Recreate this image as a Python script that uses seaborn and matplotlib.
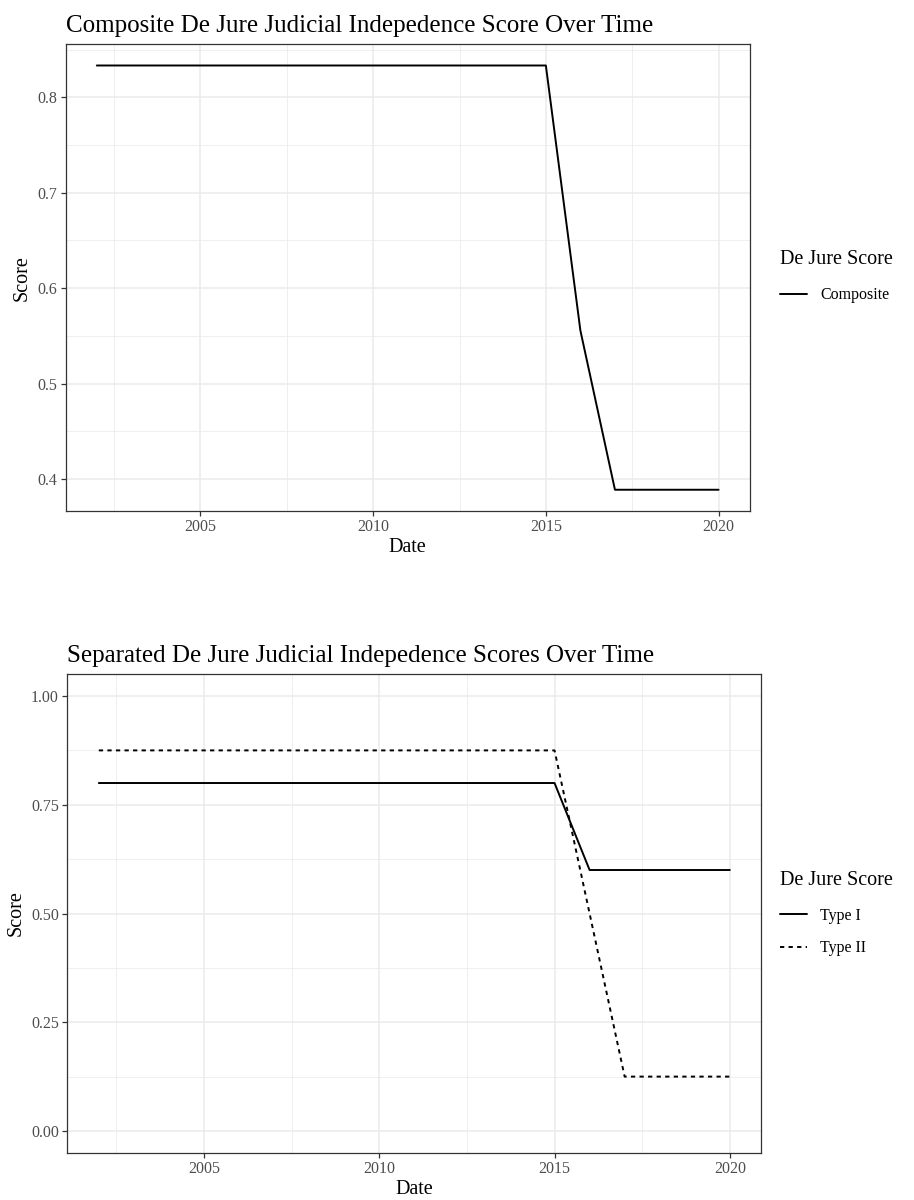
import numpy as np
import pandas as pd
import matplotlib
matplotlib.use("Agg")
import matplotlib.pyplot as plt
from matplotlib.lines import Line2D
from matplotlib.ticker import FixedLocator, FormatStrFormatter
import seaborn as sns

# Yearly de jure judicial independence scores
years = list(range(2002, 2021))
composite = [0.8333] * 14 + [0.5556] + [0.3889] * 4
type_i = [0.8] * 14 + [0.6] * 5
type_ii = [0.875] * 14 + [0.5] + [0.125] * 4

sns.set_theme(style="white")
plt.rcParams["font.family"] = ["Liberation Serif", "DejaVu Serif"]
plt.rcParams["text.color"] = "black"
plt.rcParams["axes.labelcolor"] = "black"

GRID = "#EBEBEB"
BORDER = "#333333"
TICKTXT = "#4D4D4D"


def style_axes(ax, xmaj, xmin, ymaj, ymin):
    ax.set_facecolor("white")
    ax.xaxis.set_major_locator(FixedLocator(xmaj))
    ax.xaxis.set_minor_locator(FixedLocator(xmin))
    ax.yaxis.set_major_locator(FixedLocator(ymaj))
    ax.yaxis.set_minor_locator(FixedLocator(ymin))
    ax.grid(which="major", color=GRID, linewidth=1.1, zorder=0)
    ax.grid(which="minor", color=GRID, linewidth=0.55, zorder=0)
    ax.set_axisbelow(True)
    for s in ax.spines.values():
        s.set_visible(True)
        s.set_color(BORDER)
        s.set_linewidth(0.9)
    ax.tick_params(which="major", direction="out", length=3.5, width=0.9,
                   color=BORDER, labelcolor=TICKTXT, labelsize=11.5, pad=2.5,
                   bottom=True, left=True)
    ax.tick_params(which="minor", length=0, bottom=False, left=False)
    ax.set_xlabel("Date", fontsize=14.5, labelpad=2, color="black")
    ax.set_ylabel("Score", fontsize=14.5, labelpad=4, color="black")


def add_legend(fig, handles, labels, y):
    leg = fig.legend(handles, labels, title="De Jure Score", loc="upper left",
                     bbox_to_anchor=(0.838, y), frameon=False, fontsize=11.5,
                     title_fontsize=14.5, handlelength=1.7, handletextpad=0.8,
                     labelspacing=1.05)
    leg._legend_box.align = "left"
    leg._legend_box.sep = 13
    return leg


fig = plt.figure(figsize=(9.14, 12), dpi=100)

# Composite score panel
ax1 = fig.add_axes([0.0719, 0.5742, 0.7483, 0.3889])
df1 = pd.DataFrame({"Date": years, "Score": composite, "De Jure Score": "Composite"})
sns.lineplot(data=df1, x="Date", y="Score", color="black", linewidth=1.4,
             ax=ax1, legend=False)
x_lo, x_hi = 2002 - 0.9, 2020 + 0.9
ax1.set_xlim(x_lo, x_hi)
c_min, c_max = min(composite), max(composite)
pad = (c_max - c_min) * 0.05
ax1.set_ylim(c_min - pad, c_max + pad)
style_axes(ax1, [2005, 2010, 2015, 2020], [2002.5, 2007.5, 2012.5, 2017.5],
           [0.4, 0.5, 0.6, 0.7, 0.8], [0.35, 0.45, 0.55, 0.65, 0.75, 0.85])
ax1.yaxis.set_major_formatter(FormatStrFormatter("%.1f"))
ax1.set_title("Composite De Jure Judicial Indepedence Score Over Time",
              loc="left", fontsize=18, pad=9, color="black")

add_legend(fig, [Line2D([], [], color="black", linewidth=1.4)],
           ["Composite"], 0.8035)

# Separated scores panel
ax2 = fig.add_axes([0.0736, 0.0394, 0.7594, 0.3987])
df2 = pd.DataFrame({
    "Date": years * 2,
    "Score": type_i + type_ii,
    "De Jure Score": ["Type I"] * len(years) + ["Type II"] * len(years),
})
sns.lineplot(data=df2, x="Date", y="Score", style="De Jure Score",
             dashes={"Type I": "", "Type II": (2.2, 2.2)}, color="black",
             linewidth=1.4, ax=ax2, legend=False)
ax2.set_xlim(x_lo, x_hi)
ax2.set_ylim(-0.05, 1.05)
style_axes(ax2, [2005, 2010, 2015, 2020], [2002.5, 2007.5, 2012.5, 2017.5],
           [0.0, 0.25, 0.5, 0.75, 1.0], [0.125, 0.375, 0.625, 0.875])
ax2.yaxis.set_major_formatter(FormatStrFormatter("%.2f"))
ax2.set_title("Separated De Jure Judicial Indepedence Scores Over Time",
              loc="left", fontsize=18, pad=9, color="black")

add_legend(fig,
           [Line2D([], [], color="black", linewidth=1.4),
            Line2D([], [], color="black", linewidth=1.4, dashes=(2.2, 2.2))],
           ["Type I", "Type II"], 0.2865)

fig.savefig("out.png", dpi=100, facecolor="white")
